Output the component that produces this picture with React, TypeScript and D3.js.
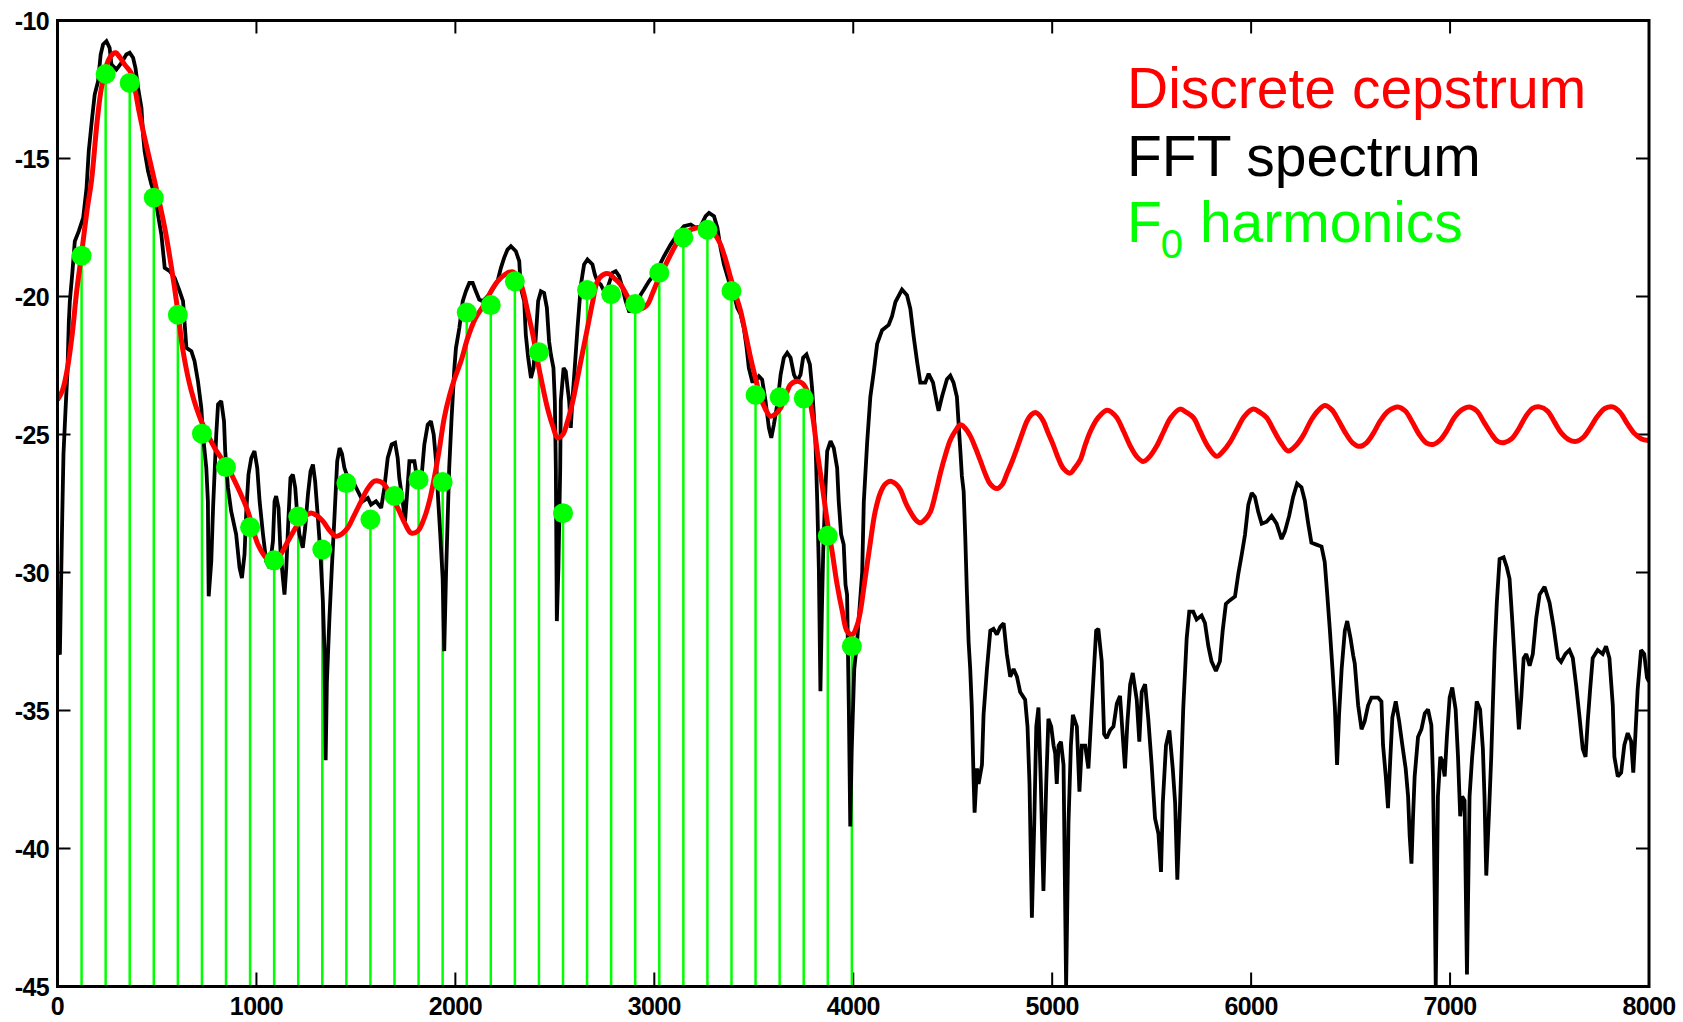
import React from "react";
import * as d3 from "d3";

const W = 1683;
const H = 1022;

const xTicks = [0, 1000, 2000, 3000, 4000, 5000, 6000, 7000, 8000];
const yTicks = [-10, -15, -20, -25, -30, -35, -40, -45];

const F0 = 121;
const harmonicDb = [
  -18.52, -11.94, -12.26, -16.42, -20.66, -24.97, -26.18, -28.36, -29.56, -27.97, -29.17,
  -26.76, -28.08, -27.23, -26.64, -26.72, -20.58, -20.31, -19.45, -22.02, -27.85, -19.76,
  -19.92, -20.27, -19.14, -17.86, -17.58, -19.8, -23.57, -23.65, -23.69, -28.67, -32.67,
];

const cepstrum: [number, number][] = [
  [0, -23.75], [25, -23.4], [50, -22.6], [75, -21.3], [95, -19.9], [120, -18.5], [150, -16.8], [171, -15.8],
  [200, -13.6], [221, -12.44], [254, -11.47], [280, -11.2], [293, -11.17], [310, -11.3], [338, -11.6],
  [370, -11.9], [388, -12.44], [410, -13.3], [438, -14.25], [488, -15.82], [539, -17.51], [581, -19.33],
  [606, -20.6], [631, -21.98], [673, -23.43], [723, -24.52], [790, -25.49], [857, -26.21], [907, -26.93],
  [957, -27.78], [1008, -28.99], [1058, -29.53], [1090, -29.6], [1116, -29.41], [1158, -28.87],
  [1208, -28.26], [1245, -27.95], [1275, -27.84], [1305, -27.95], [1334, -28.14], [1370, -28.5],
  [1400, -28.69], [1430, -28.6], [1459, -28.38], [1490, -27.95], [1526, -27.42], [1560, -26.95],
  [1593, -26.69], [1620, -26.7], [1643, -26.81], [1675, -27.2], [1710, -27.66], [1745, -28.2],
  [1777, -28.57], [1811, -28.5], [1844, -28.02], [1870, -27.4], [1894, -26.57], [1920, -25.5],
  [1944, -24.4], [1970, -23.6], [1995, -23.0], [2030, -22.3], [2062, -21.5], [2100, -20.8],
  [2145, -20.29], [2180, -19.8], [2212, -19.45], [2254, -19.18], [2285, -19.1], [2313, -19.26],
  [2340, -19.8], [2363, -20.53], [2390, -21.4], [2413, -22.34], [2440, -23.3], [2463, -24.04],
  [2490, -24.7], [2514, -25.12], [2540, -25.0], [2564, -24.52], [2590, -23.8], [2614, -22.95],
  [2640, -22.0], [2664, -21.14], [2690, -20.2], [2714, -19.45], [2745, -19.2], [2773, -19.18],
  [2800, -19.35], [2831, -19.57], [2865, -20.0], [2898, -20.41], [2930, -20.45], [2965, -20.29],
  [2990, -19.9], [3016, -19.45], [3050, -18.95], [3082, -18.48], [3115, -18.05], [3149, -17.75],
  [3183, -17.58], [3216, -17.51], [3250, -17.5], [3283, -17.57], [3310, -17.8], [3333, -18.12],
  [3360, -18.7], [3384, -19.33], [3410, -19.95], [3434, -20.53], [3460, -21.4], [3484, -22.22],
  [3510, -23.0], [3534, -23.67], [3560, -24.1], [3584, -24.34], [3610, -24.25], [3635, -24.04],
  [3660, -23.6], [3685, -23.19], [3718, -23.07], [3745, -23.15], [3769, -23.43], [3795, -24.3],
  [3819, -25.61], [3845, -26.9], [3869, -28.14], [3895, -29.3], [3919, -30.44], [3945, -31.4],
  [3969, -32.13], [3995, -32.25], [4020, -31.9], [4036, -31.4], [4060, -30.2], [4086, -28.9],
  [4110, -27.8], [4137, -27.1], [4160, -26.8], [4187, -26.69], [4215, -26.8], [4237, -27.0],
  [4265, -27.5], [4287, -27.8], [4315, -28.1], [4337, -28.2], [4365, -28.05], [4388, -27.8],
  [4415, -27.1], [4438, -26.4], [4465, -25.7], [4488, -25.2], [4515, -24.85], [4538, -24.65],
  [4560, -24.75], [4588, -25.05], [4615, -25.5], [4639, -25.95], [4665, -26.45], [4689, -26.8],
  [4722, -26.96], [4750, -26.8], [4772, -26.43], [4800, -25.95], [4823, -25.5], [4850, -24.95],
  [4873, -24.52], [4895, -24.28], [4915, -24.2], [4936, -24.3], [4956, -24.52], [4980, -24.95],
  [5007, -25.41], [5030, -25.85], [5057, -26.24], [5090, -26.4], [5115, -26.2], [5141, -25.92],
  [5165, -25.4], [5191, -24.9], [5230, -24.4], [5275, -24.12], [5300, -24.2], [5325, -24.39],
  [5360, -24.9], [5392, -25.41], [5425, -25.8], [5458, -25.98], [5490, -25.8], [5526, -25.41],
  [5560, -24.9], [5595, -24.4], [5643, -24.08], [5675, -24.2], [5710, -24.39], [5745, -24.9],
  [5780, -25.4], [5827, -25.79], [5860, -25.6], [5894, -25.28], [5930, -24.8], [5965, -24.35],
  [6011, -24.08], [6045, -24.2], [6078, -24.39], [6110, -24.8], [6150, -25.3], [6186, -25.6],
  [6225, -25.4], [6262, -25.03], [6300, -24.5], [6335, -24.15], [6370, -23.95], [6405, -24.1],
  [6440, -24.5], [6475, -24.95], [6510, -25.3], [6546, -25.43], [6580, -25.3], [6615, -24.95],
  [6650, -24.5], [6690, -24.15], [6738, -24.0], [6775, -24.15], [6810, -24.55], [6845, -25.0],
  [6880, -25.3], [6914, -25.36], [6950, -25.2], [6985, -24.85], [7020, -24.4], [7060, -24.1],
  [7098, -24.0], [7135, -24.15], [7170, -24.55], [7205, -24.95], [7240, -25.25], [7274, -25.29],
  [7310, -25.15], [7345, -24.8], [7380, -24.35], [7415, -24.05], [7450, -24.0], [7490, -24.15],
  [7525, -24.55], [7560, -24.95], [7600, -25.2], [7634, -25.25], [7670, -25.1], [7705, -24.75],
  [7740, -24.35], [7780, -24.05], [7818, -24.0], [7855, -24.2], [7890, -24.6], [7925, -24.95],
  [7960, -25.15], [8000, -25.22],
];

const fftSpectrum: [number, number][] = [
  [0, -32.8], [12, -32.97], [17, -30.8], [24, -27.9], [30, -25.72], [40, -24.16], [50, -22.71], [57, -20.9],
  [62, -20.17], [74, -19.2], [87, -18.0], [107, -17.63], [129, -17.15], [146, -16.07], [157, -14.74],
  [174, -13.53], [187, -12.68], [204, -12.2], [217, -11.23], [229, -10.87], [246, -10.75], [262, -10.99],
  [271, -11.59], [296, -11.78], [321, -11.54], [346, -11.23], [363, -11.17], [380, -11.35], [392, -11.72],
  [405, -12.44], [422, -13.17], [430, -14.13], [438, -14.74], [455, -15.46], [472, -15.94], [489, -16.3],
  [505, -17.03], [522, -17.75], [539, -18.96], [564, -19.08], [589, -19.33], [614, -19.81], [631, -20.17],
  [648, -21.86], [673, -21.98], [689, -22.34], [706, -23.07], [723, -24.04], [731, -25.0], [748, -26.21],
  [756, -27.42], [758, -29.47], [760, -30.86], [773, -29.6], [782, -27.66], [798, -25.0], [807, -23.91],
  [823, -23.79], [837, -24.52], [843, -25.6], [857, -26.93], [873, -27.78], [898, -28.62], [915, -29.83],
  [927, -30.2], [940, -29.35], [949, -27.78], [960, -26.45], [974, -25.85], [990, -25.6], [1004, -26.21],
  [1016, -27.42], [1033, -28.62], [1049, -29.59], [1066, -29.83], [1083, -28.87], [1091, -27.42],
  [1099, -27.23], [1111, -27.66], [1121, -29.23], [1133, -30.2], [1141, -30.8], [1150, -29.83],
  [1161, -28.02], [1171, -26.57], [1183, -26.45], [1195, -26.93], [1205, -27.9], [1216, -28.62],
  [1233, -29.1], [1245, -28.38], [1259, -27.17], [1272, -26.33], [1284, -26.09], [1295, -26.69],
  [1309, -28.02], [1322, -29.35], [1334, -31.04], [1342, -32.85], [1348, -36.8], [1354, -34.0],
  [1367, -31.64], [1379, -29.83], [1392, -28.02], [1406, -25.97], [1418, -25.49], [1430, -25.7],
  [1442, -26.21], [1468, -26.75], [1493, -26.81], [1518, -27.17], [1535, -27.42], [1560, -27.3],
  [1576, -27.54], [1601, -27.42], [1627, -27.66], [1643, -26.93], [1660, -25.85], [1680, -25.36],
  [1697, -25.3], [1710, -25.85], [1718, -26.57], [1735, -27.42], [1747, -28.14], [1757, -27.17],
  [1769, -25.97], [1794, -25.97], [1807, -26.57], [1819, -26.93], [1831, -26.45], [1844, -25.36],
  [1861, -24.64], [1877, -24.52], [1891, -25.0], [1903, -25.97], [1914, -27.42], [1924, -28.62],
  [1936, -30.2], [1944, -32.85], [1953, -30.07], [1961, -28.14], [1969, -26.21], [1981, -24.4],
  [1995, -22.59], [2003, -21.86], [2020, -21.14], [2037, -20.17], [2053, -19.81], [2070, -19.51],
  [2087, -19.51], [2103, -19.81], [2120, -20.11], [2137, -20.17], [2154, -20.05], [2170, -19.93],
  [2187, -19.75], [2212, -19.45], [2229, -18.96], [2245, -18.6], [2262, -18.3], [2279, -18.18],
  [2304, -18.36], [2321, -18.72], [2329, -19.69], [2346, -20.17], [2354, -21.38], [2366, -22.22],
  [2380, -22.95], [2393, -22.59], [2405, -21.38], [2416, -20.17], [2430, -19.81], [2446, -19.87],
  [2460, -20.41], [2471, -21.62], [2480, -22.1], [2493, -22.59], [2500, -23.79], [2505, -26.21],
  [2510, -31.76], [2518, -29.83], [2527, -26.21], [2530, -23.79], [2544, -22.59], [2555, -22.71],
  [2564, -23.31], [2572, -23.79], [2580, -24.76], [2589, -23.67], [2600, -22.59], [2614, -21.14],
  [2631, -19.57], [2647, -18.84], [2664, -18.66], [2689, -18.84], [2701, -19.2], [2714, -19.45],
  [2731, -19.57], [2748, -19.81], [2765, -19.69], [2790, -19.14], [2806, -19.08], [2823, -19.26],
  [2840, -19.69], [2856, -20.17], [2873, -20.53], [2890, -20.53], [2915, -20.29], [2932, -19.93],
  [2948, -19.75], [2973, -19.45], [2999, -19.2], [3024, -18.9], [3049, -18.54], [3082, -18.12],
  [3116, -17.75], [3149, -17.45], [3183, -17.39], [3208, -17.51], [3233, -17.45], [3258, -17.09],
  [3275, -16.97], [3300, -17.09], [3317, -17.51], [3333, -18.24], [3350, -18.84], [3375, -19.45],
  [3400, -19.93], [3417, -20.41], [3434, -20.65], [3450, -21.14], [3464, -21.86], [3475, -22.59],
  [3492, -23.07], [3509, -23.07], [3526, -22.89], [3542, -23.01], [3559, -23.79], [3576, -24.76],
  [3588, -25.12], [3601, -24.64], [3618, -23.91], [3635, -22.83], [3651, -22.22], [3668, -22.04],
  [3685, -22.22], [3702, -22.83], [3718, -23.07], [3735, -22.83], [3748, -22.22], [3765, -22.1],
  [3782, -22.46], [3793, -23.31], [3802, -24.28], [3810, -25.24], [3819, -27.42], [3827, -29.83],
  [3835, -34.3], [3842, -31.5], [3849, -29.23], [3861, -26.81], [3869, -25.6], [3886, -25.24],
  [3902, -25.49], [3919, -26.21], [3927, -27.42], [3939, -28.62], [3952, -28.99], [3961, -30.44],
  [3969, -30.8], [3978, -35.0], [3985, -39.2], [3992, -36.5], [4005, -33.5], [4019, -32.53],
  [4045, -29.99], [4053, -27.45], [4070, -25.28], [4086, -23.63], [4103, -22.74], [4120, -21.72],
  [4145, -21.22], [4178, -21.03], [4195, -20.71], [4212, -20.2], [4245, -19.75], [4270, -19.95],
  [4287, -20.45], [4304, -21.47], [4321, -22.36], [4337, -23.12], [4362, -23.12], [4379, -22.8],
  [4401, -23.12], [4421, -23.88], [4429, -24.14], [4446, -23.63], [4471, -23.0], [4488, -22.87],
  [4504, -23.12], [4521, -23.63], [4530, -24.65], [4538, -25.54], [4546, -26.5], [4555, -27.06],
  [4563, -28.7], [4571, -30.65], [4580, -32.53], [4588, -33.5], [4596, -34.89], [4605, -37.52],
  [4610, -38.7], [4622, -37.1], [4630, -37.66], [4647, -36.97], [4655, -35.16], [4672, -33.5],
  [4689, -32.11], [4705, -32.04], [4722, -32.25], [4739, -31.97], [4756, -31.84], [4772, -32.95],
  [4789, -33.78], [4806, -33.5], [4823, -33.78], [4839, -34.33], [4864, -34.61], [4876, -35.58],
  [4886, -37.66], [4898, -42.51], [4910, -39.05], [4920, -35.58], [4931, -34.89], [4943, -37.66],
  [4956, -41.54], [4970, -37.66], [4981, -35.3], [4995, -35.58], [5007, -36.27], [5015, -36.55],
  [5023, -37.66], [5032, -36.27], [5044, -36.13], [5057, -36.97], [5070, -45], [5082, -39.05],
  [5094, -36.27], [5104, -35.16], [5124, -35.58], [5137, -37.94], [5149, -36.27], [5166, -36.27],
  [5182, -37.1], [5199, -34.89], [5211, -33.36], [5221, -32.11], [5232, -32.04], [5249, -33.22],
  [5261, -35.86], [5274, -36.0], [5291, -35.72], [5308, -35.58], [5325, -34.75], [5341, -34.47],
  [5358, -36.27], [5366, -37.1], [5378, -35.44], [5392, -34.05], [5405, -33.64], [5425, -34.61],
  [5438, -36.13], [5450, -34.33], [5467, -34.05], [5483, -35.3], [5500, -36.97], [5517, -38.91],
  [5534, -39.46], [5547, -40.85], [5556, -38.35], [5572, -36.27], [5589, -35.72], [5606, -37.1],
  [5618, -38.35], [5629, -41.13], [5643, -38.35], [5659, -34.89], [5676, -32.39], [5689, -31.42],
  [5709, -31.42], [5726, -31.7], [5751, -31.56], [5768, -31.83], [5785, -32.67], [5801, -33.22],
  [5823, -33.57], [5843, -33.22], [5857, -32.11], [5873, -31.14], [5894, -31.0], [5919, -30.87],
  [5936, -30.03], [5953, -29.34], [5969, -28.64], [5986, -27.54], [6003, -27.12], [6019, -27.26],
  [6036, -27.81], [6053, -28.23], [6078, -28.16], [6103, -27.95], [6128, -28.23], [6153, -28.79],
  [6170, -28.51], [6191, -27.95], [6211, -27.26], [6231, -26.78], [6253, -26.91], [6270, -27.4],
  [6287, -28.23], [6303, -28.92], [6328, -28.99], [6354, -29.06], [6370, -29.62], [6382, -30.73],
  [6396, -32.11], [6409, -33.5], [6421, -34.89], [6432, -36.97], [6442, -35.16], [6455, -33.5],
  [6471, -32.11], [6483, -31.76], [6500, -32.39], [6513, -33.0], [6521, -33.3], [6538, -34.81],
  [6555, -35.68], [6571, -35.39], [6588, -34.81], [6605, -34.53], [6638, -34.53], [6655, -34.67],
  [6663, -36.25], [6677, -37.39], [6688, -38.54], [6700, -36.68], [6710, -35.25], [6727, -34.67],
  [6744, -35.39], [6760, -36.25], [6777, -37.11], [6789, -38.11], [6797, -39.54], [6806, -40.55],
  [6814, -38.83], [6822, -37.39], [6839, -35.96], [6856, -35.68], [6873, -35.1], [6889, -34.96],
  [6906, -35.53], [6914, -37.39], [6923, -41.69], [6928, -45], [6939, -38.11], [6951, -36.68],
  [6961, -36.83], [6973, -37.39], [6984, -35.96], [6998, -34.53], [7011, -34.17], [7028, -34.96],
  [7040, -36.68], [7051, -38.83], [7061, -38.11], [7073, -38.26], [7085, -44.56], [7098, -38.11],
  [7111, -36.68], [7123, -35.68], [7134, -34.67], [7151, -34.96], [7165, -36.39], [7173, -38.11],
  [7182, -40.98], [7195, -38.83], [7207, -36.68], [7215, -34.81], [7224, -32.81], [7235, -31.09],
  [7249, -29.51], [7269, -29.45], [7285, -29.8], [7299, -30.23], [7312, -31.66], [7324, -33.1],
  [7336, -34.53], [7346, -35.68], [7358, -34.53], [7370, -33.1], [7383, -32.95], [7400, -33.38],
  [7416, -32.95], [7433, -31.66], [7450, -30.8], [7475, -30.52], [7500, -31.09], [7520, -31.95],
  [7542, -33.1], [7558, -33.24], [7580, -32.95], [7600, -32.81], [7617, -33.1], [7634, -34.1],
  [7651, -35.25], [7667, -36.39], [7681, -36.68], [7692, -35.39], [7704, -34.24], [7717, -33.1],
  [7742, -32.81], [7767, -32.95], [7784, -32.67], [7801, -33.1], [7818, -34.81], [7826, -36.68],
  [7843, -37.39], [7860, -37.25], [7876, -36.25], [7893, -35.82], [7910, -36.11], [7921, -37.25],
  [7931, -35.96], [7943, -34.24], [7960, -32.81], [7976, -32.95], [7990, -33.81], [8000, -33.96],
];

const legendItems = [
  { label: "Discrete cepstrum", color: "#ff0000" },
  { label: "FFT spectrum", color: "#000000" },
  { label: "harmonics", color: "#00ff00" },
];

export default function App() {
  const x = d3.scaleLinear().domain([0, 8000]).range([57.5, 1649]);
  const y = d3.scaleLinear().domain([-45, -10]).range([986.5, 20.5]);

  const fftLine = d3
    .line<[number, number]>()
    .x((d) => x(d[0]))
    .y((d) => y(d[1]))
    .curve(d3.curveLinear);
  const cepLine = d3
    .line<[number, number]>()
    .x((d) => x(d[0]))
    .y((d) => y(d[1]))
    .curve(d3.curveCatmullRom.alpha(0.5));

  const harmonics = harmonicDb.map((db, i) => ({ hz: F0 * (i + 1), db }));
  const [x0, x1] = x.range();
  const [yb, yt] = y.range();
  const font = "'Liberation Sans', Arial, Helvetica, sans-serif";
  const legendX = 1127;
  const legendY = [108, 176, 242];

  return (
    <svg
      width={W}
      height={H}
      viewBox={`0 0 ${W} ${H}`}
      style={{ position: "absolute", left: 0, top: 0, background: "#fff" }}
    >
      <rect x={0} y={0} width={W} height={H} fill="#fff" />
      <defs>
        <clipPath id="plotClip">
          <rect x={x0} y={yt} width={x1 - x0} height={yb - yt} />
        </clipPath>
      </defs>

      {xTicks.slice(1, -1).map((t) => (
        <g key={"xt" + t}>
          <line x1={x(t)} x2={x(t)} y1={yb} y2={yb - 14} stroke="#000" strokeWidth={2} />
          <line x1={x(t)} x2={x(t)} y1={yt} y2={yt + 13} stroke="#000" strokeWidth={2} />
        </g>
      ))}
      {yTicks.slice(1, -1).map((t) => (
        <g key={"yt" + t}>
          <line x1={x0} x2={x0 + 13} y1={y(t)} y2={y(t)} stroke="#000" strokeWidth={2} />
          <line x1={x1} x2={x1 - 13} y1={y(t)} y2={y(t)} stroke="#000" strokeWidth={2} />
        </g>
      ))}

      <g clipPath="url(#plotClip)">
        {harmonics.map((h, i) => (
          <line
            key={"s" + i}
            x1={x(h.hz)}
            x2={x(h.hz)}
            y1={yb}
            y2={y(h.db)}
            stroke="#00ff00"
            strokeWidth={2.5}
          />
        ))}
        <path
          d={fftLine(fftSpectrum) || ""}
          fill="none"
          stroke="#000"
          strokeWidth={3.8}
          strokeLinejoin="miter"
          strokeMiterlimit={2}
        />
        <path
          d={cepLine(cepstrum) || ""}
          fill="none"
          stroke="#ff0000"
          strokeWidth={5}
          strokeLinejoin="round"
        />
        {harmonics.map((h, i) => (
          <circle key={"d" + i} cx={x(h.hz)} cy={y(h.db)} r={10} fill="#00ff00" />
        ))}
      </g>

      <rect x={x0} y={yt} width={x1 - x0} height={yb - yt} fill="none" stroke="#000" strokeWidth={3} />

      {xTicks.map((t) => (
        <text
          key={"xl" + t}
          x={x(t)}
          y={1015}
          textAnchor="middle"
          fontFamily={font}
          fontWeight="bold"
          fontSize={25}
          letterSpacing={-0.6}
          fill="#000"
        >
          {t}
        </text>
      ))}
      {yTicks.map((t) => (
        <text
          key={"yl" + t}
          x={49}
          y={y(t) + 9}
          textAnchor="end"
          fontFamily={font}
          fontWeight="bold"
          fontSize={25}
          letterSpacing={-0.6}
          fill="#000"
        >
          {t}
        </text>
      ))}

      <text x={legendX} y={legendY[0]} fontFamily={font} fontSize={57} fill={legendItems[0].color}>
        {legendItems[0].label}
      </text>
      <text x={legendX} y={legendY[1]} fontFamily={font} fontSize={57} fill={legendItems[1].color}>
        {legendItems[1].label}
      </text>
      <text x={legendX} y={legendY[2]} fontFamily={font} fontSize={57} fill={legendItems[2].color}>
        <tspan>F</tspan>
        <tspan fontSize={40} dy={16} dx={-1}>
          0
        </tspan>
        <tspan dy={-16} dx={1}>
          {" " + legendItems[2].label}
        </tspan>
      </text>
    </svg>
  );
}
